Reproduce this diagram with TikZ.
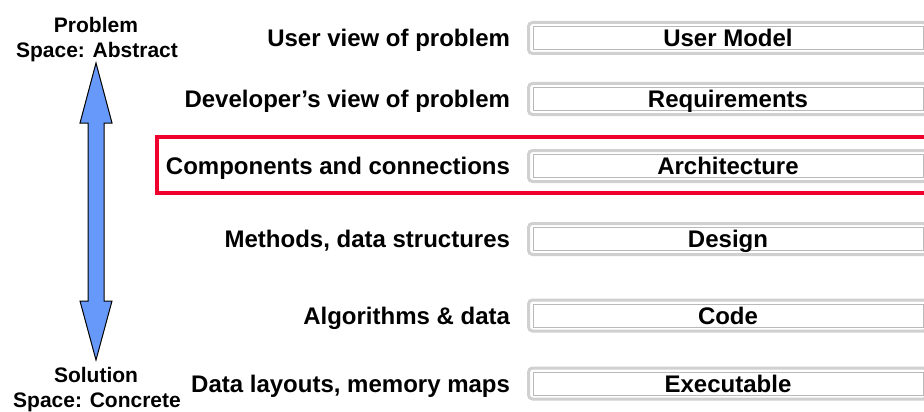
\documentclass[tikz,border=0pt]{standalone}
\usepackage{fontspec}
\setmainfont{Liberation Sans}
\definecolor{arrowblue}{RGB}{102,153,250}
\definecolor{framered}{RGB}{240,0,45}
\definecolor{boxouter}{RGB}{208,208,208}
\definecolor{boxinner}{RGB}{185,185,185}
\begin{document}
\begin{tikzpicture}[x=1pt,y=-1pt,
  every node/.style={inner sep=0pt,outer sep=0pt},
  lvl/.style={font=\fontsize{24}{28}\selectfont\bfseries,anchor=base east},
  side/.style={font=\fontsize{21}{25}\selectfont\bfseries,anchor=base},
  stagebox/.style={draw=boxouter,line width=3pt,rounded corners=4pt,
    minimum width=399pt,minimum height=31pt,fill=white},
  stagetext/.style={font=\fontsize{24}{28}\selectfont\bfseries,anchor=base},
  innerline/.style={draw=boxinner,line width=0.9pt},
  framebox/.style={draw=framered,line width=3.5pt},
  spacearrow/.style={draw=black,line width=1pt,fill=arrowblue,line join=miter}]
\useasboundingbox (0,0) rectangle (924,412);

% abstraction axis
\node[side] (probA) at (96,33) {Problem};
\node[side] (probB) at (97,58) {Space: Abstract};
\node[side] (solA) at (96,382) {Solution};
\node[side] (solB) at (97,407) {Space: Concrete};
\draw[spacearrow] (96,63) -- (112,123) -- (104,123) -- (104,301) -- (112,301)
  -- (96,360) -- (80,301) -- (88,301) -- (88,123) -- (80,123) -- cycle;

% highlighted level
\draw[framebox] (157,137) rectangle (932,193);

% levels: centre of box, baseline of text
\foreach \i/\c/\b/\lab/\name in {
  1/38/46.5/{User view of problem}/{User Model},
  2/99/107.5/{Developer’s view of problem}/{Requirements},
  3/166/174.5/{Components and connections}/{Architecture},
  4/239/247.5/{Methods, data structures}/{Design},
  5/315.5/324/{Algorithms \& data}/{Code},
  6/383.5/392/{Data layouts, memory maps}/{Executable}}{
  \node[stagebox] (box\i) at (728,\c) {};
  \draw[innerline] ([xshift=4.5pt,yshift=-4pt]box\i.north west)
    rectangle ([xshift=-4.5pt,yshift=4pt]box\i.south east);
  \node[stagetext] (txt\i) at (728,\b) {\name};
  \node[lvl] (lbl\i) at (510,\b) {\lab};
}
\end{tikzpicture}
\end{document}
